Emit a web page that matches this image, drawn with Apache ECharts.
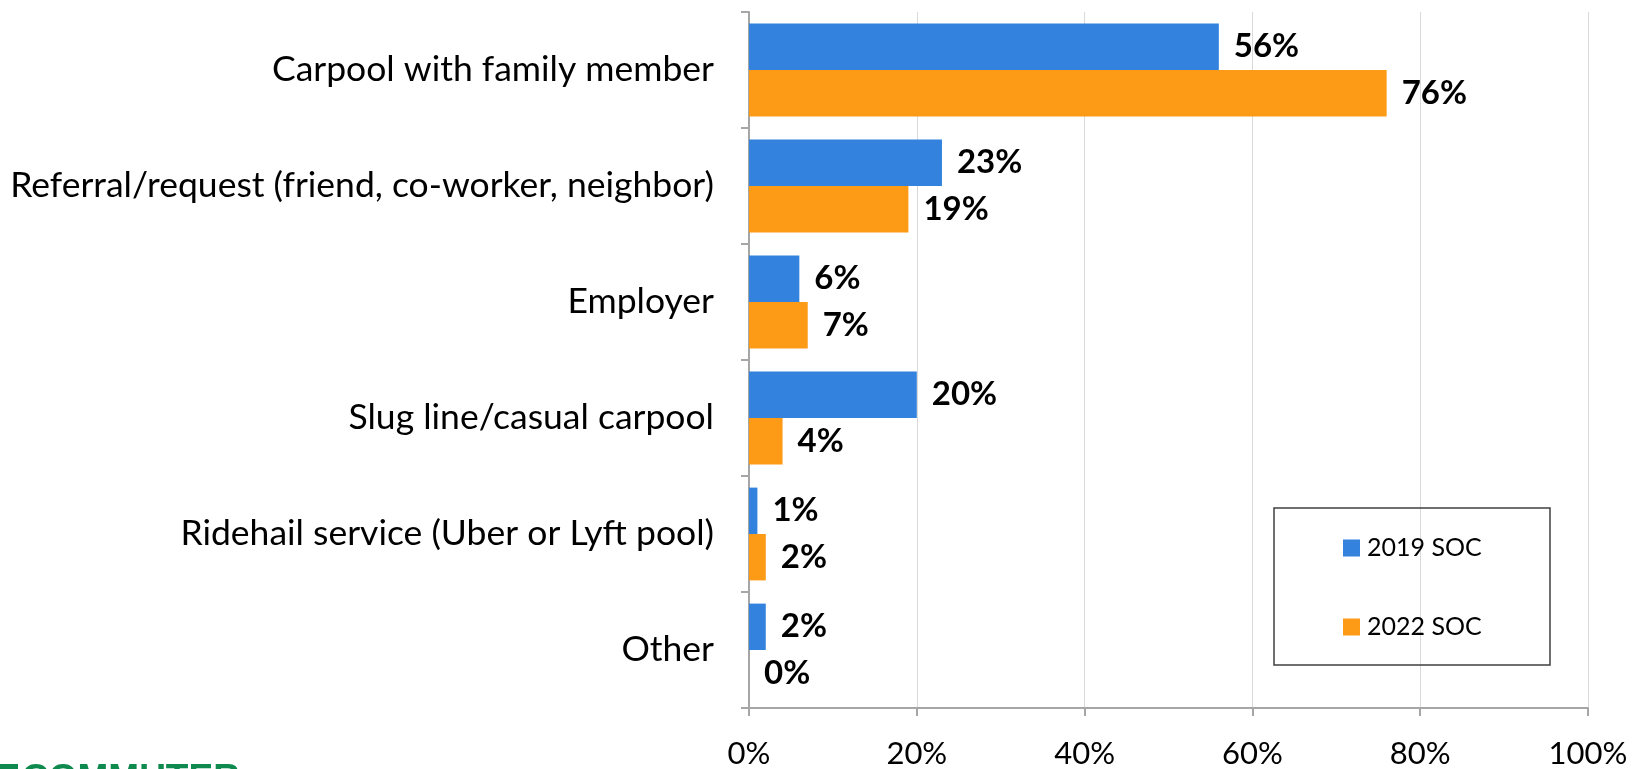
<!DOCTYPE html>
<html>
<head>
<meta charset="utf-8">
<script src="https://cdn.jsdelivr.net/npm/echarts@6/dist/echarts.min.js"></script>
<style>
html,body{margin:0;padding:0;background:#fff;}
#chart{width:1635px;height:769px;}
</style>
</head>
<body>
<div id="chart"></div>
<script>
const categories = [
  'Carpool with family member',
  'Referral/request (friend, co-worker, neighbor)',
  'Employer',
  'Slug line/casual carpool',
  'Ridehail service (Uber or Lyft pool)',
  'Other'
];
const series2019 = [56, 23, 6, 20, 1, 2];
const series2022 = [76, 19, 7, 4, 2, 0];
const seriesNames = ['2019 SOC', '2022 SOC'];
const xTicks = [0, 20, 40, 60, 80, 100];

const FONT = 'Lato';
const chart = echarts.init(document.getElementById('chart'), null, {renderer: 'canvas'});
const labelCfg = {
  show: true, position: 'right', distance: 15,
  formatter: p => p.value + '%',
  fontFamily: FONT, fontWeight: 'bold', fontSize: 33, color: '#000'
};
chart.setOption({
  animation: false,
  backgroundColor: '#fff',
  grid: {left: 749, right: 47, top: 12, bottom: 47, containLabel: false},
  legend: {
    orient: 'vertical', left: 1338, top: 529,
    itemWidth: 17, itemHeight: 17, itemGap: 51,
    icon: 'rect',
    textStyle: {fontFamily: FONT, fontSize: 25, color: '#000', lineHeight: 28, padding: [0,0,0,2]},
    data: seriesNames
  },
  xAxis: {
    type: 'value', min: xTicks[0], max: xTicks[xTicks.length - 1], interval: 20,
    axisLine: {show: true, lineStyle: {color: '#A6A6A6', width: 2}},
    axisTick: {show: true, length: 8, lineStyle: {color: '#A6A6A6', width: 2}},
    splitLine: {show: true, lineStyle: {color: '#D9D9D9', width: 1}},
    axisLabel: {fontFamily: FONT, fontSize: 31, color: '#000', margin: 30, formatter: v => v + '%'}
  },
  yAxis: {
    type: 'category', inverse: true, data: categories,
    axisLine: {show: true, lineStyle: {color: '#A6A6A6', width: 2}},
    axisTick: {show: true, length: 8, lineStyle: {color: '#A6A6A6', width: 2}},
    axisLabel: {fontFamily: FONT, fontSize: 35.5, color: '#000', margin: 35}
  },
  series: [
    {name: seriesNames[0], type: 'bar', data: series2019, barGap: '0%', barCategoryGap: '20%',
     itemStyle: {color: '#3383DE'}, label: labelCfg},
    {name: seriesNames[1], type: 'bar', data: series2022, barGap: '0%', barCategoryGap: '20%',
     itemStyle: {color: '#FD9A16'}, label: labelCfg}
  ],
  graphic: [
    {type: 'rect', shape: {x: 1274, y: 508, width: 276, height: 157},
     style: {fill: 'none', stroke: '#404040', lineWidth: 1.5}, z: 10},
    {type: 'rect', shape: {x: 0, y: 764, width: 18, height: 5}, style: {fill: '#0E8A4F'}},
    {type: 'text', left: 22, top: 761,
     style: {text: 'COMMUTER', fontFamily: 'Liberation Sans', fontWeight: 'bold', fontSize: 37, fill: '#0E8A4F'}}
  ]
});
</script>
</body>
</html>
